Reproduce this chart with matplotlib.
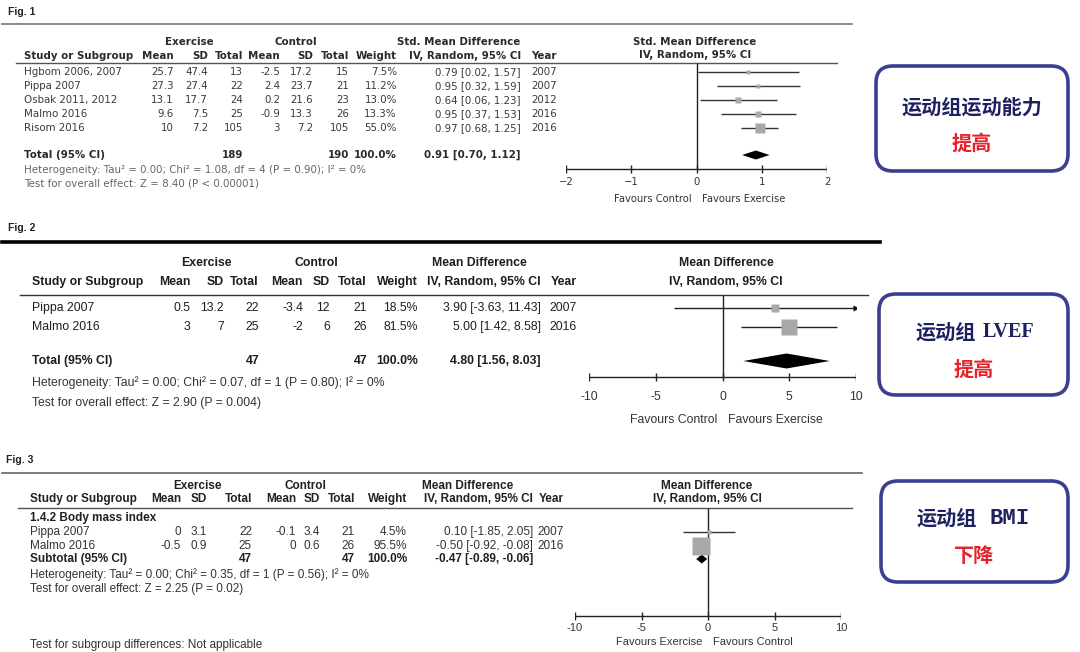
import matplotlib.pyplot as plt
from matplotlib.patches import FancyBboxPatch

W, H = 1080, 652

# ---------------- Fig. 1 : exercise capacity (Std. Mean Difference)
studies1 = ["Hgbom 2006, 2007", "Pippa 2007", "Osbak 2011, 2012", "Malmo 2016", "Risom 2016"]
ex_mean1 = ["25.7", "27.3", "13.1", "9.6", "10"]
ex_sd1 = ["47.4", "27.4", "17.7", "7.5", "7.2"]
ex_n1 = [13, 22, 24, 25, 105]
ct_mean1 = ["-2.5", "2.4", "0.2", "-0.9", "3"]
ct_sd1 = ["17.2", "23.7", "21.6", "13.3", "7.2"]
ct_n1 = [15, 21, 23, 26, 105]
weight1 = [7.5, 11.2, 13.0, 13.3, 55.0]
est1 = [0.79, 0.95, 0.64, 0.95, 0.97]
lo1 = [0.02, 0.32, 0.06, 0.37, 0.68]
hi1 = [1.57, 1.59, 1.23, 1.53, 1.25]
year1 = [2007, 2007, 2012, 2016, 2016]
total1 = {"ex_n": 189, "ct_n": 190, "est": 0.91, "lo": 0.70, "hi": 1.12}
het1 = "Heterogeneity: Tau² = 0.00; Chi² = 1.08, df = 4 (P = 0.90); I² = 0%"
test1 = "Test for overall effect: Z = 8.40 (P < 0.00001)"
ticks1 = [-2, -1, 0, 1, 2]
tick_labels1 = ["\u22122", "\u22121", "0", "1", "2"]

# ---------------- Fig. 2 : LVEF (Mean Difference)
studies2 = ["Pippa 2007", "Malmo 2016"]
ex_mean2 = ["0.5", "3"]
ex_sd2 = ["13.2", "7"]
ex_n2 = [22, 25]
ct_mean2 = ["-3.4", "-2"]
ct_sd2 = ["12", "6"]
ct_n2 = [21, 26]
weight2 = [18.5, 81.5]
est2 = [3.90, 5.00]
lo2 = [-3.63, 1.42]
hi2 = [11.43, 8.58]
year2 = [2007, 2016]
total2 = {"ex_n": 47, "ct_n": 47, "est": 4.80, "lo": 1.56, "hi": 8.03}
het2 = "Heterogeneity: Tau² = 0.00; Chi² = 0.07, df = 1 (P = 0.80); I² = 0%"
test2 = "Test for overall effect: Z = 2.90 (P = 0.004)"
ticks2 = [-10, -5, 0, 5, 10]

# ---------------- Fig. 3 : BMI (Mean Difference)
subgroup3 = "1.4.2 Body mass index"
studies3 = ["Pippa 2007", "Malmo 2016"]
ex_mean3 = ["0", "-0.5"]
ex_sd3 = ["3.1", "0.9"]
ex_n3 = [22, 25]
ct_mean3 = ["-0.1", "0"]
ct_sd3 = ["3.4", "0.6"]
ct_n3 = [21, 26]
weight3 = [4.5, 95.5]
est3 = [0.10, -0.50]
lo3 = [-1.85, -0.92]
hi3 = [2.05, -0.08]
year3 = [2007, 2016]
total3 = {"ex_n": 47, "ct_n": 47, "est": -0.47, "lo": -0.89, "hi": -0.06}
het3 = "Heterogeneity: Tau² = 0.00; Chi² = 0.35, df = 1 (P = 0.56); I² = 0%"
test3 = "Test for overall effect: Z = 2.25 (P = 0.02)"
ticks3 = [-10, -5, 0, 5, 10]

# ---------------- boxes on the right
box_lines = [("运动组运动能力", "", "提高"), ("运动组", "LVEF", "提高"), ("运动组", "BMI", "下降")]

NAVY = "#1d2160"
BORDER = "#3c3f8e"
RED = "#e6232b"
SQ = "#a8a8a8"

fig = plt.figure(figsize=(W / 100, H / 100), dpi=100)
bg = fig.add_axes([0, 0, 1, 1])
bg.set_xlim(0, W)
bg.set_ylim(H, 0)
bg.axis("off")


def ci_text(e, l, h):
    return f"{e:.2f} [{l:.2f}, {h:.2f}]"


def draw_table(xs, ys, columns, **kw):
    for x, col in zip(xs, columns):
        for y, val in zip(ys, col):
            bg.text(x, y, str(val), ha="right", va="center", **kw)


def forest_axes(px_left, px_right, lim):
    ax = fig.add_axes([px_left / W, 0, (px_right - px_left) / W, 1])
    ax.set_xlim(*lim)
    ax.set_ylim(H, 0)
    ax.axis("off")
    ax.patch.set_alpha(0)
    return ax


def draw_forest(ax, ys, est, lo, hi, weight, k, total, ty, dh, top, axis_y,
                ticks, labels, lab_y, fav_y, fav_l, fav_r, font, fs, lc):
    xmin, xmax = ax.get_xlim()
    ax.vlines(0, top, axis_y, color="#222222", lw=1.0)
    for y, e, l, h, w in zip(ys, est, lo, hi, weight):
        ax.hlines(y, max(l, xmin), min(h, xmax), color=lc, lw=1.0)
        if h > xmax:
            ax.plot(xmax, y, marker=">", ms=4, color="#111111", mec="none")
        ax.plot(e, y, marker="s", ms=k * w ** 0.5, color=SQ, mec="none")
    ax.fill([total["lo"], total["est"], total["hi"], total["est"]],
            [ty, ty - dh, ty, ty + dh], color="black", lw=0)
    ax.hlines(axis_y, ticks[0], ticks[-1], color="#222222", lw=1.0)
    ax.vlines(ticks, axis_y - 4, axis_y + 4, color="#222222", lw=1.0)
    for t, s in zip(ticks, labels):
        ax.text(t, lab_y, s, ha="center", va="center", fontsize=fs, family=font, color="#333333")
    ax.text(-0.4 * (xmax - xmin) / 20, fav_y, fav_l, ha="right", va="center",
            fontsize=fs, family=font, color="#333333")
    ax.text(0.4 * (xmax - xmin) / 20, fav_y, fav_r, ha="left", va="center",
            fontsize=fs, family=font, color="#333333")


# ================= Fig. 1 =================
f1 = dict(family="DejaVu Sans", fontsize=7.4, color="#3a3a3a")
f1b = dict(family="DejaVu Sans", fontsize=7.4, color="#2a2a2a", weight="bold")
bg.text(8, 12, "Fig. 1", ha="left", va="center", family="Liberation Sans",
        fontsize=7.5, weight="bold", color="#222222")
bg.plot([2, 852], [24, 24], color="#777777", lw=1.2)
bg.plot([16, 837], [63, 63], color="#555555", lw=1.0)
cols1 = [174, 208, 243, 280, 313, 349, 397, 521, 557]
bg.text(189, 42, "Exercise", ha="center", va="center", **f1b)
bg.text(296, 42, "Control", ha="center", va="center", **f1b)
bg.text(459, 42, "Std. Mean Difference", ha="center", va="center", **f1b)
bg.text(24, 56, "Study or Subgroup", ha="left", va="center", **f1b)
draw_table(cols1, [56], [["Mean"], ["SD"], ["Total"], ["Mean"], ["SD"], ["Total"], ["Weight"],
                         ["IV, Random, 95% CI"], ["Year"]], **f1b)
rows1 = [72, 86, 100, 114, 128]
for y, s in zip(rows1, studies1):
    bg.text(24, y, s, ha="left", va="center", **f1)
draw_table(cols1, rows1, [ex_mean1, ex_sd1, ex_n1, ct_mean1, ct_sd1, ct_n1,
                          [f"{w:.1f}%" for w in weight1],
                          [ci_text(e, l, h) for e, l, h in zip(est1, lo1, hi1)], year1], **f1)
bg.text(24, 155, "Total (95% CI)", ha="left", va="center", **f1b)
draw_table([cols1[2], cols1[5], cols1[6], cols1[7]], [155],
           [[total1["ex_n"]], [total1["ct_n"]], ["100.0%"],
            [ci_text(total1["est"], total1["lo"], total1["hi"])]], **f1b)
bg.text(24, 170, het1, ha="left", va="center", **dict(f1, color="#666666"))
bg.text(24, 184, test1, ha="left", va="center", **dict(f1, color="#666666"))
bg.text(695, 42, "Std. Mean Difference", ha="center", va="center", **f1b)
bg.text(695, 55, "IV, Random, 95% CI", ha="center", va="center", **f1b)

ax1 = forest_axes(566, 827, (ticks1[0], ticks1[-1]))
draw_forest(ax1, rows1, est1, lo1, hi1, weight1, 1.05, total1, 155, 4.5, 63, 169,
            ticks1, tick_labels1, 182, 199, "Favours Control", "Favours Exercise",
            "DejaVu Sans", 7.2, "#333333")

# ================= Fig. 2 =================
f2 = dict(family="Liberation Sans", fontsize=8.8, color="#1e1e1e")
f2b = dict(family="Liberation Sans", fontsize=8.8, color="#1e1e1e", weight="bold")
bg.text(8, 228, "Fig. 2", ha="left", va="center", family="Liberation Sans",
        fontsize=7.5, weight="bold", color="#222222")
bg.plot([2, 880], [242, 242], color="black", lw=2.6)
bg.plot([20, 868], [295, 295], color="#333333", lw=1.0)
cols2 = [190, 224, 259, 303, 330, 367, 418, 541, 577]
bg.text(206, 263, "Exercise", ha="center", va="center", **f2b)
bg.text(316, 263, "Control", ha="center", va="center", **f2b)
bg.text(479, 263, "Mean Difference", ha="center", va="center", **f2b)
bg.text(32, 282, "Study or Subgroup", ha="left", va="center", **f2b)
draw_table(cols2, [282], [["Mean"], ["SD"], ["Total"], ["Mean"], ["SD"], ["Total"], ["Weight"],
                          ["IV, Random, 95% CI"], ["Year"]], **f2b)
rows2 = [308, 327]
for y, s in zip(rows2, studies2):
    bg.text(32, y, s, ha="left", va="center", **f2)
draw_table(cols2, rows2, [ex_mean2, ex_sd2, ex_n2, ct_mean2, ct_sd2, ct_n2,
                          [f"{w:.1f}%" for w in weight2],
                          [ci_text(e, l, h) for e, l, h in zip(est2, lo2, hi2)], year2], **f2)
bg.text(32, 361, "Total (95% CI)", ha="left", va="center", **f2b)
draw_table([cols2[2], cols2[5], cols2[6], cols2[7]], [361],
           [[total2["ex_n"]], [total2["ct_n"]], ["100.0%"],
            [ci_text(total2["est"], total2["lo"], total2["hi"])]], **f2b)
bg.text(32, 383, het2, ha="left", va="center", **dict(f2, color="#333333"))
bg.text(32, 403, test2, ha="left", va="center", **dict(f2, color="#333333"))
bg.text(726, 263, "Mean Difference", ha="center", va="center", **f2b)
bg.text(726, 282, "IV, Random, 95% CI", ha="center", va="center", **f2b)

ax2 = forest_axes(589, 856, (ticks2[0], ticks2[-1]))
draw_forest(ax2, rows2, est2, lo2, hi2, weight2, 1.25, total2, 361, 7.5, 295, 377,
            ticks2, [str(t) for t in ticks2], 397, 420, "Favours Control", "Favours Exercise",
            "Liberation Sans", 8.8, "#222222")

# ================= Fig. 3 =================
f3 = dict(family="Liberation Sans", fontsize=8.5, color="#333333")
f3b = dict(family="Liberation Sans", fontsize=8.5, color="#222222", weight="bold")
bg.text(6, 460, "Fig. 3", ha="left", va="center", family="Liberation Sans",
        fontsize=7.5, weight="bold", color="#222222")
bg.plot([2, 862], [473, 473], color="#666666", lw=1.2)
bg.plot([18, 852], [508, 508], color="#555555", lw=1.0)
cols3 = [181, 207, 252, 296, 320, 355, 407, 533, 564]
bg.text(198, 486, "Exercise", ha="center", va="center", **f3b)
bg.text(305, 486, "Control", ha="center", va="center", **f3b)
bg.text(468, 486, "Mean Difference", ha="center", va="center", **f3b)
bg.text(30, 499, "Study or Subgroup", ha="left", va="center", **f3b)
draw_table(cols3, [499], [["Mean"], ["SD"], ["Total"], ["Mean"], ["SD"], ["Total"], ["Weight"],
                          ["IV, Random, 95% CI"], ["Year"]], **f3b)
bg.text(30, 518, subgroup3, ha="left", va="center", **f3b)
rows3 = [532, 546]
for y, s in zip(rows3, studies3):
    bg.text(30, y, s, ha="left", va="center", **f3)
draw_table(cols3, rows3, [ex_mean3, ex_sd3, ex_n3, ct_mean3, ct_sd3, ct_n3,
                          [f"{w:.1f}%" for w in weight3],
                          [ci_text(e, l, h) for e, l, h in zip(est3, lo3, hi3)], year3], **f3)
bg.text(30, 559, "Subtotal (95% CI)", ha="left", va="center", **f3b)
draw_table([cols3[2], cols3[5], cols3[6], cols3[7]], [559],
           [[total3["ex_n"]], [total3["ct_n"]], ["100.0%"],
            [ci_text(total3["est"], total3["lo"], total3["hi"])]], **f3b)
bg.text(30, 575, het3, ha="left", va="center", **f3)
bg.text(30, 589, test3, ha="left", va="center", **f3)
bg.text(30, 645, "Test for subgroup differences: Not applicable", ha="left", va="center", **f3)
bg.text(707, 486, "Mean Difference", ha="center", va="center", **f3b)
bg.text(707, 499, "IV, Random, 95% CI", ha="center", va="center", **f3b)

ax3 = forest_axes(575, 841, (ticks3[0], ticks3[-1]))
draw_forest(ax3, rows3, est3, lo3, hi3, weight3, 1.35, total3, 559, 4.5, 508, 616,
            ticks3, [str(t) for t in ticks3], 628, 642, "Favours Exercise", "Favours Control",
            "Liberation Sans", 8.0, "#333333")

# ================= boxes =================
boxes = [(876, 66, 192, 105, 107, 143), (879, 294, 189, 101, 332, 369), (881, 481, 187, 101, 518, 555)]
for (x, y, w, h, y1, y2), (cn, en, res) in zip(boxes, box_lines):
    bg.add_patch(FancyBboxPatch((x, y), w, h, boxstyle="round,pad=0,rounding_size=17",
                                fc="white", ec=BORDER, lw=2.6))
    cx = x + w / 2
    if en == "":
        bg.text(cx, y1, cn, ha="center", va="center", family="Noto Sans CJK SC",
                weight="bold", fontsize=14.5, color=NAVY)
    elif en == "LVEF":
        bg.text(cx + 2, y1, cn, ha="right", va="center", family="Noto Sans CJK SC",
                weight="bold", fontsize=14.5, color=NAVY)
        bg.text(cx + 9, y1, en, ha="left", va="center", family="Liberation Serif",
                weight="bold", fontsize=14.5, color=NAVY)
    else:
        bg.text(cx + 2.5, y1, cn, ha="right", va="center", family="Noto Sans CJK SC",
                weight="bold", fontsize=14.5, color=NAVY)
        bg.text(cx + 15, y1, en, ha="left", va="center", family="Liberation Mono",
                weight="bold", fontsize=16, color=NAVY)
    bg.text(cx, y2, res, ha="center", va="center", family="Noto Sans CJK SC",
            weight="bold", fontsize=14.5, color=RED)

fig.savefig("out.png", dpi=100)
